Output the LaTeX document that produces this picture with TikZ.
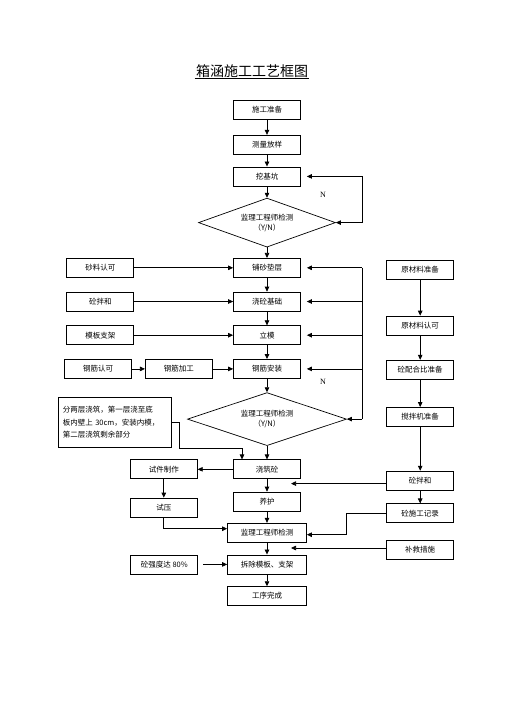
\documentclass[tikz,border=0pt]{standalone}
\usepackage{fontspec}
\setmainfont{Liberation Serif}
\newfontfamily\cjk{Noto Sans CJK SC}
\usetikzlibrary{arrows.meta, shapes.geometric, positioning, calc}

\begin{document}
\begin{tikzpicture}[x=1pt, y=1pt, line width=0.7pt,
    >={Triangle[length=5pt, width=4.5pt]},
    box/.style={draw, minimum width=67pt, minimum height=19pt, inner sep=1pt,
                font=\cjk\fontsize{7.5}{9}\selectfont},
    wbox/.style={box, minimum width=79pt},
    dia/.style={draw, diamond, aspect=2.8, inner sep=0pt, align=center,
                minimum width=137pt, minimum height=49pt,
                font=\cjk\fontsize{7.5}{10}\selectfont},
    lbl/.style={font=\fontsize{8}{9}\selectfont}]

  \useasboundingbox (0,0) rectangle (504,-713);

  % title
  \node[font=\cjk\fontsize{14}{16}\selectfont, inner sep=1pt] (title) at (252,-71) {箱涵施工工艺框图};
  \draw[line width=1pt] (title.south west) -- (title.south east);

  % main column
  \node[box] (prep) at (267,-109.5) {施工准备};
  \node[box, below=15.5pt of prep] (survey) {测量放样};
  \node[box, below=12pt of survey] (pit) {挖基坑};
  \node[dia, below=11.5pt of pit] (chk1) {监理工程师检测\\（Y/N）};
  \node[box, below=10.5pt of chk1] (sand) {铺砂垫层};
  \node[box, below=14pt of sand] (base) {浇砼基础};
  \node[box, below=14pt of base] (form) {立模};
  \node[box, below=14pt of form] (rebar) {钢筋安装};
  \node[dia, minimum width=159pt, minimum height=53pt,
        below=13.5pt of rebar] (chk2) {监理工程师检测\\（Y/N）};
  \node[box, below=13.5pt of chk2] (pour) {浇筑砼};
  \node[box, below=12.5pt of pour] (cure) {养护};
  \node[wbox, below=11.5pt of cure] (chk3) {监理工程师检测};
  \node[wbox, below=12pt of chk3] (strip) {拆除模板、支架};
  \node[wbox, below=12pt of strip] (done) {工序完成};

  % left side
  \node[box, left=99pt of sand] (sandok) {砂料认可};
  \node[box, left=99pt of base] (mix1) {砼拌和};
  \node[box, left=99pt of form] (formsup) {模板支架};
  \node[box, left=20.5pt of rebar] (rebarmk) {钢筋加工};
  \node[box, left=13pt of rebarmk] (rebarok) {钢筋认可};
  \node[draw, minimum width=113pt, minimum height=50pt, text width=104pt,
        inner sep=4pt, align=left, font=\cjk\fontsize{7.5}{12.5}\selectfont,
        left=15.5pt of chk2, yshift=-3.5pt] (note)
        {分两层浇筑，第一层浇至底\\板内壁上 30cm，安装内模，\\第二层浇筑剩余部分};
  \node[box, left=35.5pt of pour] (spec) {试件制作};
  \node[box, below=18.5pt of spec] (press) {试压};
  \node[box, left=29pt of strip] (strength) {砼强度达 80\%};

  % right side
  \node[box, right=85.5pt of sand, yshift=-2pt] (raw) {原材料准备};
  \node[box, below=36pt of raw] (rawok) {原材料认可};
  \node[box, below=24.5pt of rawok] (ratio) {砼配合比准备};
  \node[box, below=27.5pt of ratio] (mixer) {搅拌机准备};
  \node[box, below=44pt of mixer] (mix2) {砼拌和};
  \node[box, below=13pt of mix2] (record) {砼施工记录};
  \node[box, below=17pt of record] (remedy) {补救措施};

  % straight connectors
  \foreach \a/\b in {prep/survey, survey/pit, pit/chk1, chk1/sand, sand/base,
                     base/form, form/rebar, rebar/chk2, chk2/pour, pour/cure,
                     cure/chk3, chk3/strip, strip/done, raw/rawok, rawok/ratio,
                     ratio/mixer, mixer/mix2, mix2/record, spec/press,
                     sandok/sand, mix1/base, formsup/form, rebarok/rebarmk,
                     rebarmk/rebar, pour/spec}
    \draw[->] (\a) -- (\b);

  % N loops
  \coordinate (rail) at (362,0);
  \draw (rail |- pit) -- (rail |- chk1);
  \draw[->] (rail |- pit) -- ([xshift=6pt]pit.east);
  \draw[->] (rail |- chk1) -- (chk1.east);
  \draw (rail |- sand) -- (rail |- chk2);
  \foreach \b in {sand, base, form, rebar}
    \draw[->] (rail |- \b) -- ([xshift=6pt]\b.east);
  \draw[->] (rail |- chk2) -- (chk2.east);
  \node[lbl] (n1) at ($(rail |- pit)+(-39,-18)$) {N};
  \node[lbl] (n2) at ($(rail |- rebar)+(-39,-13)$) {N};

  % note and test pieces
  \coordinate (pourin) at ([xshift=-25pt]pour.north);
  \draw[->] (note.east) -- ++(8,0) |- (pourin |- note.south) -- (pourin);
  \draw[->] (press.south) |- ([yshift=4pt]chk3.west);
  \draw[->] ([xshift=5pt]strength.east) -- (strip.west);

  % right column feeds
  \coordinate (tap) at ([xshift=24pt]pour.south);
  \draw[->] ([yshift=-3pt]mix2.west) -- ([yshift=-3pt]mix2.west -| tap);
  \draw[->] (record.west) -- ++(-40,0) |- ([yshift=-2pt]chk3.east);
  \draw[->] ([yshift=2pt]remedy.west) -- ([yshift=2pt]remedy.west -| tap);

\end{tikzpicture}
\end{document}
